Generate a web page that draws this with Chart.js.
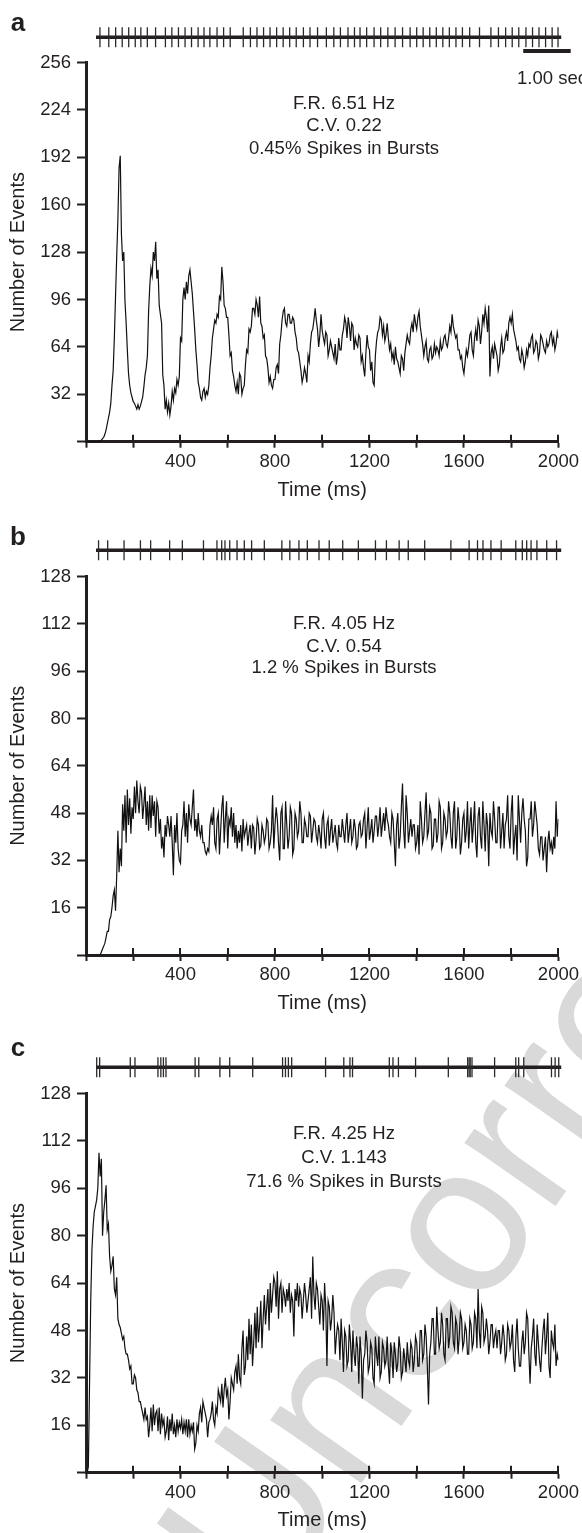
<!DOCTYPE html>
<html>
<head>
<meta charset="utf-8">
<script src="https://cdn.jsdelivr.net/npm/chart.js@4.4.1/dist/chart.umd.min.js"></script>
<style>
html,body{margin:0;padding:0;background:#fff;}
#wrap{position:relative;width:582px;height:1533px;overflow:hidden;font-family:"Liberation Sans",Arial,Helvetica,sans-serif;color:#231f20;background:#fff;}
canvas{position:absolute;left:0;z-index:2;}
.t{position:absolute;white-space:nowrap;font-size:18.5px;line-height:1;transform:translate(-50%,-50%);z-index:3;}
.lbl{position:absolute;white-space:nowrap;font-size:26px;font-weight:bold;line-height:1;transform:translate(-50%,-50%);z-index:3;}
#wm{position:absolute;left:0;top:0;white-space:nowrap;font-size:210px;line-height:1;color:#d9d9d9;transform-origin:0 0;z-index:1;}
</style>
</head>
<body>
<div id="wrap">
  <div id="wm">Uncorrected</div>
  <canvas id="rasterA" width="582" height="50"></canvas>
  <canvas id="mainA" width="582" height="515"></canvas>
  <canvas id="rasterB" width="582" height="50"></canvas>
  <canvas id="mainB" width="582" height="515"></canvas>
  <canvas id="rasterC" width="582" height="50"></canvas>
  <canvas id="mainC" width="582" height="503"></canvas>
</div>
<script>
// ---------------- DATA ----------------
const binWidthMs = 5;            // PSTH bin width (ms), bins start at 0 ms
const xTickLabels = [400, 800, 1200, 1600, 2000];
const yTicksA = [32, 64, 96, 128, 160, 192, 224, 256];
const yTicksBC = [16, 32, 48, 64, 80, 96, 112, 128];

// one row = 100 ms
const countsA = [
  0,0,0,0,0,0,0,0,0,0,0,0,0,1,2,3,5,8,12,16,
  20,26,38,48,70,98,125,150,185,193,140,122,128,95,80,62,46,38,33,30,
  27,26,24,22,25,22,24,27,30,37,45,50,58,88,105,117,112,128,122,135,
  110,116,92,86,80,45,38,22,28,20,26,18,24,34,28,36,33,42,38,44,
  70,68,96,104,96,108,100,112,116,108,100,88,76,62,52,40,36,30,28,34,
  36,30,34,32,38,50,58,70,76,82,80,86,84,98,96,118,108,92,90,84,
  84,72,58,60,48,44,38,34,40,32,46,44,32,36,38,52,62,60,76,74,
  78,90,90,86,96,92,84,98,80,78,70,72,58,56,50,40,44,38,36,42,
  42,50,52,46,66,72,82,88,90,80,78,86,86,80,80,84,82,74,70,62,
  60,54,48,40,44,50,46,40,58,54,66,74,76,82,90,82,76,64,72,86,
  75,70,66,74,72,58,62,68,64,60,56,66,52,58,70,62,62,72,76,84,
  80,70,84,78,68,80,78,62,70,66,64,72,70,54,58,50,44,60,72,64,
  62,48,54,40,38,58,68,74,76,84,82,72,78,68,72,80,70,62,66,56,
  60,52,64,56,54,50,46,58,56,48,60,66,72,68,66,76,80,74,86,80,
  76,84,88,78,72,66,58,64,68,56,54,62,64,56,58,66,60,64,62,58,
  68,62,64,70,72,66,64,70,78,74,86,78,74,70,72,62,62,56,58,50,
  46,54,62,58,64,72,74,62,58,70,76,68,82,78,66,74,86,80,90,84,
  74,92,44,60,64,56,66,62,58,48,52,64,70,60,62,70,74,68,80,84,
  80,86,76,72,68,62,64,56,54,62,58,50,54,62,58,66,64,70,72,60,
  62,68,66,56,60,72,70,66,62,60,68,64,66,72,74,66,70,62,66,74,
  70
];
const countsB = [
  0,0,0,0,0,0,0,0,0,0,0,0,0,1,2,3,4,6,8,8,
  12,13,16,20,22,15,27,42,28,36,30,51,42,54,38,56,44,53,41,50,
  46,57,48,59,52,48,57,55,46,51,57,44,52,42,54,43,54,47,52,40,
  52,50,41,46,36,40,33,44,40,47,44,40,47,38,27,44,38,48,36,32,
  31,42,44,52,40,48,38,51,46,44,50,56,42,46,40,48,42,40,44,38,
  38,35,34,36,35,44,47,44,50,38,36,46,48,34,42,50,54,38,46,52,
  36,46,44,50,40,48,38,44,36,42,38,44,35,46,40,42,44,37,41,44,
  36,44,43,34,39,46,44,36,37,44,42,38,40,46,45,36,38,42,54,36,
  44,50,46,38,32,48,50,36,36,52,44,36,40,50,48,34,36,48,46,40,
  42,52,48,38,38,46,44,40,40,48,47,38,42,46,45,40,38,44,41,36,
  46,48,40,36,44,46,37,42,46,38,41,44,38,36,44,40,40,46,42,38,
  44,48,38,42,46,38,40,46,43,36,37,44,45,40,41,46,48,36,43,50,
  39,42,46,38,42,47,47,40,44,50,40,44,48,42,50,46,44,40,38,48,
  46,38,30,44,48,36,40,50,58,42,36,54,48,38,42,46,40,44,44,36,
  38,44,34,52,46,38,40,48,55,40,42,50,48,36,37,46,46,38,41,52,
  50,36,38,48,46,40,42,52,48,40,36,48,52,36,40,50,45,34,38,46,
  48,38,42,52,36,44,50,38,44,52,38,33,47,50,40,36,52,44,35,48,
  44,30,48,42,40,52,46,38,38,50,50,36,42,48,36,44,46,54,40,36,
  48,54,34,40,44,32,54,46,38,48,53,46,42,30,33,46,46,52,40,44,
  52,48,44,36,34,40,40,32,36,40,28,38,42,36,38,34,40,36,52,40,
  46
];
const countsC = [
  0,0,2,30,58,75,83,88,90,92,96,108,100,106,80,88,92,97,82,84,
  73,68,70,73,62,60,66,52,50,49,47,45,46,42,40,40,38,35,36,30,
  30,33,32,28,27,24,24,22,20,18,22,18,19,12,16,22,14,23,16,20,
  21,14,22,13,20,16,18,12,14,19,11,18,14,20,13,16,12,18,14,17,
  15,18,13,17,14,18,12,18,13,16,14,17,8,10,16,14,20,22,17,24,
  22,20,18,12,17,18,20,24,18,16,22,20,28,26,24,30,22,28,32,26,
  28,18,24,32,30,28,34,36,30,40,32,30,42,48,33,36,46,38,52,40,
  50,36,44,54,42,56,44,50,58,42,52,60,50,56,62,48,64,54,60,66,
  64,56,68,52,62,64,54,62,60,56,62,58,64,54,60,58,46,62,58,64,
  56,62,60,52,58,64,60,54,58,62,66,52,73,60,55,64,62,56,50,60,
  58,48,64,56,36,58,56,48,52,60,54,40,46,50,48,38,52,44,34,48,
  46,36,38,50,44,34,48,40,36,46,42,30,46,40,25,38,40,48,44,34,
  36,44,42,32,30,46,40,36,46,32,34,44,42,36,38,46,36,30,44,40,
  32,44,40,34,37,46,42,32,34,42,38,34,44,38,36,44,42,34,38,46,
  44,36,36,48,48,38,40,50,46,36,23,40,44,52,52,40,40,56,48,42,
  44,54,50,40,38,52,52,42,46,56,54,44,42,52,50,40,46,54,52,42,
  44,50,48,40,40,52,50,42,44,54,52,42,62,48,42,56,54,44,46,52,
  48,40,44,50,50,42,46,48,42,48,48,40,44,50,46,38,40,50,48,42,
  44,50,38,34,46,52,42,36,36,44,48,40,44,54,52,40,30,42,46,52,
  40,36,50,44,38,34,42,48,52,40,46,54,36,32,48,44,42,50,36,40,
  38
];

// spike rasters (seconds)
const rasterLengthSec = 9.8;
const spikesA = [0.083,0.269,0.414,0.552,0.689,0.827,0.945,1.081,1.255,1.462,1.598,1.737,1.876,2.012,2.151,2.275,2.399,2.550,2.688,2.827,
  3.102,3.253,3.391,3.530,3.666,3.805,3.943,4.080,4.218,4.369,4.508,4.667,4.853,5.010,5.149,5.308,5.445,5.562,5.701,5.858,
  5.997,6.148,6.301,6.458,6.617,6.756,6.892,7.031,7.169,7.306,7.444,7.583,7.719,7.872,8.079,8.319,8.478,8.629,8.768,8.906,
  9.057,9.196,9.332,9.471,9.609,9.733];
const spikesB = [0.054,0.246,0.591,0.936,1.151,1.551,1.819,2.264,2.548,2.648,2.717,2.817,2.971,3.124,3.278,3.546,3.915,4.083,4.275,4.452,
  4.698,4.913,5.197,5.527,5.887,6.118,6.386,6.578,6.924,7.476,7.860,8.037,8.152,8.320,8.535,8.843,8.981,9.073,9.165,9.288,9.495,9.702];
const spikesC = [0.015,0.077,0.722,0.821,1.305,1.366,1.420,1.474,2.088,2.165,2.610,2.817,3.301,3.930,3.991,4.053,4.122,4.836,5.220,5.350,
  5.404,6.179,6.256,6.371,6.732,7.422,7.829,7.860,7.883,7.921,8.397,8.843,8.904,9.011,9.595,9.672,9.748];
const scaleBarSec = [9.0, 10.0];

const annotA = ["F.R. 6.51 Hz", "C.V. 0.22", "0.45% Spikes in Bursts"];
const annotB = ["F.R. 4.05 Hz", "C.V. 0.54", "1.2 % Spikes in Bursts"];
const annotC = ["F.R. 4.25 Hz", "C.V. 1.143", "71.6 % Spikes in Bursts"];

// ---------------- STYLE / LAYOUT ----------------
const INK = '#231f20';
const FONT = '"Liberation Sans", Arial, Helvetica, sans-serif';
Chart.defaults.font.family = FONT;
Chart.defaults.color = INK;

const wrap = document.getElementById('wrap');
function addText(cls, txt, x, y, extra) {
  const d = document.createElement('div');
  d.className = cls; d.textContent = txt;
  d.style.left = x + 'px'; d.style.top = y + 'px';
  if (extra) Object.assign(d.style, extra);
  wrap.appendChild(d);
}

const innerTicks = {
  id: 'innerTicks',
  afterDraw(chart) {
    const xs = chart.scales.x, ctx = chart.ctx, yb = chart.chartArea.bottom;
    ctx.save(); ctx.strokeStyle = INK; ctx.lineWidth = 2;
    xs.ticks.forEach(t => {
      if (t.value === 0) return;
      const px = Math.round(xs.getPixelForValue(t.value));
      ctx.beginPath(); ctx.moveTo(px, yb - 7); ctx.lineTo(px, yb); ctx.stroke();
    });
    ctx.restore();
  }
};

function makeMain(id, counts, yTicks, g) {
  const cv = document.getElementById(id);
  cv.style.top = g.canvasTop + 'px';
  const H = cv.height;
  const yMax = yTicks[yTicks.length - 1];
  const yStep = yTicks[0];
  const pts = counts.map((v, i) => ({x: i * binWidthMs, y: v}));
  new Chart(cv, {
    type: 'line',
    data: {datasets: [{data: pts, borderColor: '#111', borderWidth: 1.2, pointRadius: 0, tension: 0, fill: false}]},
    options: {
      responsive: false, animation: false, events: [],
      plugins: {legend: {display: false}, tooltip: {enabled: false}},
      layout: {padding: {top: g.areaTop - g.canvasTop, right: 582 - 559.3, left: 0, bottom: 0}},
      scales: {
        x: {
          type: 'linear', min: 0, max: 2000,
          afterFit(s) { s.height = g.canvasTop + H - g.areaBottom; },
          ticks: {stepSize: 200, autoSkip: false, maxRotation: 0, padding: 3,
                  font: {size: 18.5}, color: INK,
                  callback: v => xTickLabels.includes(v) ? String(v) : ''},
          grid: {drawOnChartArea: false, drawTicks: true, tickLength: 6, tickWidth: 2, color: INK},
          border: {display: true, width: 3, color: INK},
          title: {display: true, text: 'Time (ms)', font: {size: 20}, color: INK,
                  padding: {top: 0, bottom: Math.max(0, g.canvasTop + H - g.titleY - 12)}}
        },
        y: {
          type: 'linear', min: 0, max: yMax,
          afterFit(s) { s.width = 86; },
          ticks: {stepSize: yStep, autoSkip: false, padding: 6, font: {size: 18.5}, color: INK,
                  callback: v => yTicks.includes(v) ? String(v) : ''},
          grid: {drawOnChartArea: false, drawTicks: true, tickLength: 9, tickWidth: 2, color: INK},
          border: {display: true, width: 3, color: INK},
          title: {display: true, text: 'Number of Events', font: {size: 20}, color: INK, padding: {top: 6, bottom: 0}}
        }
      }
    },
    plugins: [innerTicks]
  });
}

function makeRaster(id, spikes, rowTop, withBar) {
  const cv = document.getElementById(id);
  cv.style.top = rowTop + 'px';
  const rowY = 0.6, barY = 0.1;
  const ds = [
    {data: spikes.map(s => ({x: s, y: rowY})), pointStyle: 'line', rotation: 90, pointRadius: 10,
     borderColor: '#2a2a2a', borderWidth: 1.3, showLine: false, clip: false},
    {data: [{x: 0, y: rowY}, {x: rasterLengthSec, y: rowY}], showLine: true, borderColor: INK,
     borderWidth: 3.6, pointRadius: 0, clip: false}
  ];
  if (withBar) ds.push({data: scaleBarSec.map(s => ({x: s, y: barY})), showLine: true, borderColor: INK,
     borderWidth: 4, pointRadius: 0, clip: false, borderCapStyle: 'butt'});
  new Chart(cv, {
    type: 'scatter',
    data: {datasets: ds},
    options: {
      responsive: false, animation: false, events: [],
      plugins: {legend: {display: false}, tooltip: {enabled: false}},
      layout: {padding: {left: 96, right: 582 - 579.6, top: 0, bottom: 0}},
      scales: {
        x: {type: 'linear', min: 0, max: 10, display: false},
        y: {type: 'linear', min: 0, max: 1, display: false}
      }
    }
  });
}

// panel geometry (page pixels)
makeRaster('rasterA', spikesA, 15, true);
makeMain('mainA', countsA, yTicksA, {canvasTop: 0, areaTop: 62.5, areaBottom: 441.7, titleY: 490});
makeRaster('rasterB', spikesB, 528, false);
makeMain('mainB', countsB, yTicksBC, {canvasTop: 515, areaTop: 576.6, areaBottom: 955, titleY: 1003});
makeRaster('rasterC', spikesC, 1045, false);
makeMain('mainC', countsC, yTicksBC, {canvasTop: 1030, areaTop: 1093.5, areaBottom: 1472.7, titleY: 1520.7});

// texts
addText('lbl', 'a', 18, 22);
addText('lbl', 'b', 18, 536);
addText('lbl', 'c', 18, 1047);
addText('t', '1.00 sec', 517, 78, {transform: 'translate(0,-50%)'});
[[annotA, [102.7, 125, 147.7]], [annotB, [622.7, 646, 667.3]], [annotC, [1133, 1157, 1181]]].forEach(([lines, ys]) => {
  lines.forEach((s, i) => addText('t', s, 344, ys[i]));
});

// proof watermark
const wm = document.getElementById('wm');
wm.style.transform = 'translate(121px,1518px) rotate(-55deg)';
</script>
</body>
</html>
